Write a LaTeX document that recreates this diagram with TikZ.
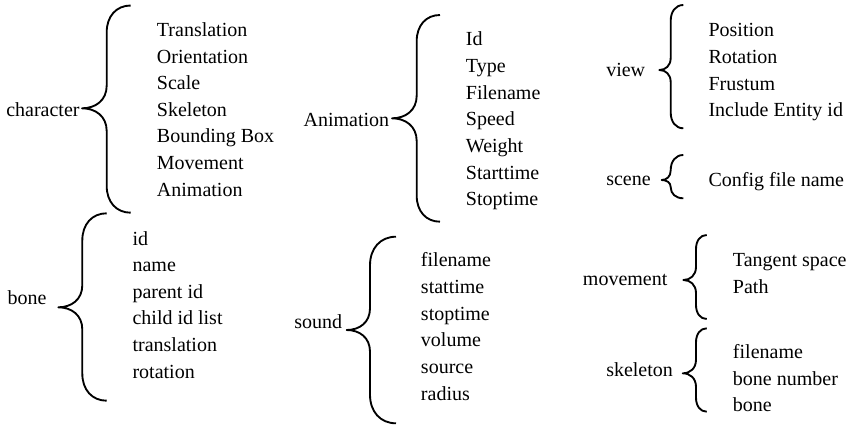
\documentclass[tikz,border=0pt]{standalone}
\usepackage{fontspec}
\setmainfont{Liberation Serif}

\tikzset{
  lbl/.style={anchor=base west, inner sep=0pt, font=\fontsize{15}{18}\selectfont},
  itm/.style={lbl},
  curly/.style={line width=1.4pt, line join=round},
}

% Curly brace opening to the right.
% #1 tip x, #2 top y, #3 spine x, #4 cusp x, #5 cusp y, #6 bottom y
\newcommand\drawcurly[6]{%
  \pgfmathsetmacro\cbW{#1-#3}%
  \pgfmathsetmacro\cbD{#3-#4}%
  \pgfmathsetmacro\cbA{0.95*\cbW+4}%
  \pgfmathsetmacro\cbB{0.8*\cbD+3}%
  \pgfmathsetmacro\cbU{min(1,(#5-#2)/(\cbA+\cbB))}%
  \pgfmathsetmacro\cbL{min(1,(#6-#5)/(\cbA+\cbB))}%
  \draw[curly] (#1,#2)
    .. controls ({#3+0.4*\cbW},#2) and (#3,{#2+0.4*\cbA*\cbU}) .. (#3,{#2+\cbA*\cbU})
    -- (#3,{#5-\cbB*\cbU})
    .. controls (#3,{#5-0.35*\cbB*\cbU}) and ({#4+0.55*\cbD},#5) .. (#4,#5)
    .. controls ({#4+0.55*\cbD},#5) and (#3,{#5+0.35*\cbB*\cbL}) .. (#3,{#5+\cbB*\cbL})
    -- (#3,{#6-\cbA*\cbL})
    .. controls (#3,{#6-0.4*\cbA*\cbL}) and ({#3+0.4*\cbW},#6) .. (#1,#6);
}

\begin{document}
\begin{tikzpicture}[x=0.75pt, y=-0.75pt]
  \fill[white] (0,0) rectangle (854,425);
  \useasboundingbox (0,0) rectangle (854,425);

  % character
  \node[lbl] (character) at (6,116.7) {character};
  \drawcurly{130.7}{5.5}{106.7}{82}{108.3}{212.7}
  \foreach \t [count=\i from 0] in {Translation,Orientation,Scale,Skeleton,Bounding Box,Movement,Animation}
    \node[itm] (character-\i) at (156.7,{36.7+\i*26.55}) {\t};

  % bone
  \node[lbl] (bone) at (7.3,304) {bone};
  \drawcurly{106.7}{213.3}{82.3}{58.3}{307.3}{400.7}
  \foreach \t [count=\i from 0] in {id,name,parent id,child id list,translation,rotation}
    \node[itm] (bone-\i) at (132.3,{245+\i*26.6}) {\t};

  % Animation
  \node[lbl] (animation) at (303.3,126.7) {Animation};
  \drawcurly{440}{15}{416.7}{392}{118.3}{221.7}
  \foreach \t [count=\i from 0] in {Id,Type,Filename,Speed,Weight,Starttime,Stoptime}
    \node[itm] (animation-\i) at (465.7,{45.7+\i*26.7}) {\t};

  % sound
  \node[lbl] (sound) at (294,328.3) {sound};
  \drawcurly{396}{236.7}{370}{346.7}{330}{423.3}
  \foreach \t [count=\i from 0] in {filename,stattime,stoptime,volume,source,radius}
    \node[itm] (sound-\i) at (420.7,{266.7+\i*26.66}) {\t};

  % view
  \node[lbl] (view) at (606,76) {view};
  \drawcurly{683.3}{5}{670.7}{659.3}{70}{128.3}
  \foreach \t [count=\i from 0] in {Position,Rotation,Frustum,Include Entity id}
    \node[itm] (view-\i) at (708.3,{36.7+\i*26.67}) {\t};

  % scene
  \node[lbl] (scene) at (606,185) {scene};
  \drawcurly{683.3}{155}{670.7}{661.7}{180}{198.3}
  \node[itm] (scene-0) at (708.3,186.7) {Config file name};

  % movement
  \node[lbl] (movement) at (582.7,285) {movement};
  \drawcurly{706.7}{235}{696}{683.3}{280}{319}
  \foreach \t [count=\i from 0] in {Tangent space,Path}
    \node[itm] (movement-\i) at (732.7,{266.7+\i*26.6}) {\t};

  % skeleton
  \node[lbl] (skeleton) at (606,376.7) {skeleton};
  \drawcurly{706.7}{328.3}{696}{682.7}{373.3}{411.7}
  \foreach \t [count=\i from 0] in {filename,bone number,bone}
    \node[itm] (skeleton-\i) at (732.7,{358.3+\i*26.7}) {\t};
\end{tikzpicture}
\end{document}
